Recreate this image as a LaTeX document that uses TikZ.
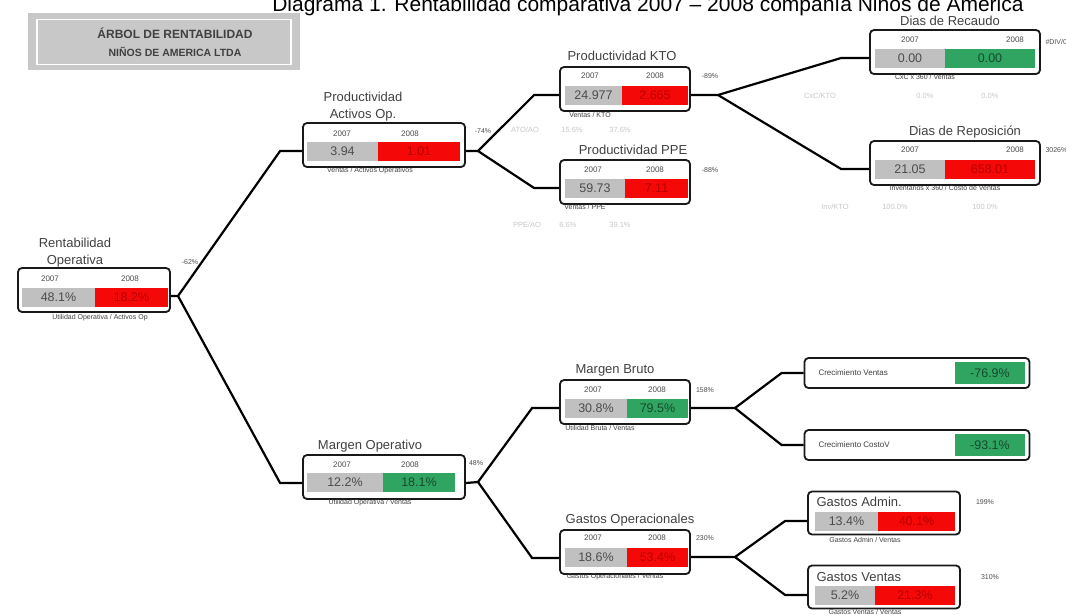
\documentclass[tikz,border=0pt]{standalone}
\usepackage{fontspec}
\setmainfont{Liberation Sans}
\usetikzlibrary{positioning}

\definecolor{cellgray}{RGB}{192,192,192}
\definecolor{cellred}{RGB}{245,8,8}
\definecolor{cellgreen}{RGB}{48,165,98}
\definecolor{valred}{RGB}{185,0,0}
\definecolor{hdrgray}{RGB}{200,200,200}

\tikzset{
  frame/.style={draw=black!90, line width=1.8pt, rounded corners=4pt, inner sep=0pt, fill=white},
  gcell/.style={fill=cellgray, minimum height=19pt, inner sep=0pt, text=black!70, font=\fontsize{12.5}{12.5}\selectfont},
  rcell/.style={gcell, fill=cellred, text=valred},
  vcell/.style={gcell, fill=cellgreen, text=black!55!cellgreen},
  lbl/.style={text=black!75, font=\fontsize{13}{13}\selectfont},
  yr/.style={text=black!70, font=\fontsize{8}{8}\selectfont},
  sub/.style={text=black!75, font=\fontsize{7}{7}\selectfont},
  pct/.style={text=black!70, font=\fontsize{7}{7}\selectfont},
  faint/.style={text=black!22, font=\fontsize{7.5}{7.5}\selectfont},
  link/.style={line width=2.2pt, black}
}

\begin{document}
\begin{tikzpicture}[x=1pt, y=-1pt]
\useasboundingbox (0,0) rectangle (1066,614);

% title
\node[font=\fontsize{21}{21}\selectfont, anchor=base] (title) at (648,11)
  {Diagrama 1. Rentabilidad comparativa 2007 -- 2008 compañía Niños de America};

% header
\node[fill=hdrgray, minimum width=272pt, minimum height=57pt] (hdr) at (164,41.5) {};
\node[draw=white, line width=1.5pt, fill=hdrgray, minimum width=254pt, minimum height=45pt] (hdrin) at (164,42) {};
\node[text=black!75, font=\bfseries\fontsize{12}{12}\selectfont] (hdr1) at (175,33) {ÁRBOL DE RENTABILIDAD};
\node[text=black!75, font=\bfseries\fontsize{10.5}{10.5}\selectfont] (hdr2) at (175,52) {NIÑOS DE AMERICA LTDA};

% Rentabilidad Operativa
\node[lbl] (rentl1) at (75,243) {Rentabilidad};
\node[lbl] (rentl2) at (75,261) {Operativa};
\node[frame, minimum width=152pt, minimum height=44pt] (rent) at (94,290) {};
\node[yr] (renty1) at (50,279) {2007};
\node[yr] (renty2) at (130,279) {2008};
\node[gcell, minimum width=73pt] (rentv1) at (58.5,297) {48.1\%};
\node[rcell, minimum width=73pt] (rentv2) at (131.5,297) {18.2\%};
\node[pct] (rentp) at (190,262) {-62\%};
\node[sub] (rents) at (100,318) {Utilidad Operativa / Activos Op};

% Productividad Activos Op.
\node[lbl] (paol1) at (363,97) {Productividad};
\node[lbl] (paol2) at (363,115) {Activos Op.};
\node[frame, minimum width=162pt, minimum height=44pt] (pao) at (384,145) {};
\node[yr] (paoy1) at (342,134) {2007};
\node[yr] (paoy2) at (410,134) {2008};
\node[gcell, minimum width=71pt] (paov1) at (342.5,151) {3.94};
\node[rcell, minimum width=82pt] (paov2) at (419,151) {1.01};
\node[pct] (paop) at (483,131) {-74\%};
\node[sub] (paos) at (370,171) {Ventas / Activos Operativos};

% Productividad KTO
\node[lbl] (ktol) at (622,56) {Productividad KTO};
\node[frame, minimum width=130pt, minimum height=44pt] (kto) at (625,89) {};
\node[yr] (ktoy1) at (590,76) {2007};
\node[yr] (ktoy2) at (655,76) {2008};
\node[gcell, minimum width=57pt] (ktov1) at (593.5,95) {24.977};
\node[rcell, minimum width=66pt] (ktov2) at (655,95) {2.665};
\node[pct] (ktop) at (710,76) {-89\%};
\node[sub] (ktos) at (590,115) {Ventas / KTO};
\node[faint] (atoa) at (525,130) {ATO/AO};
\node[faint] (atob) at (572,130) {15.6\%};
\node[faint] (atoc) at (620,130) {37.6\%};

% Productividad PPE
\node[lbl] (ppel) at (633,150) {Productividad PPE};
\node[frame, minimum width=130pt, minimum height=44pt] (ppe) at (625,182) {};
\node[yr] (ppey1) at (593,170) {2007};
\node[yr] (ppey2) at (655,170) {2008};
\node[gcell, minimum width=60pt] (ppev1) at (595,188) {59.73};
\node[rcell, minimum width=63pt] (ppev2) at (656.5,188) {7.11};
\node[pct] (ppep) at (710,170) {-88\%};
\node[sub] (ppes) at (585,207) {Ventas / PPE};
\node[faint] (ppea) at (527,225) {PPE/AO};
\node[faint] (ppeb) at (568,225) {6.6\%};
\node[faint] (ppec) at (620,225) {39.1\%};

% Dias de Recaudo
\node[lbl] (drecl) at (950,21) {Dias de Recaudo};
\node[frame, minimum width=170pt, minimum height=44pt] (drec) at (955,52) {};
\node[yr] (drecy1) at (910,40) {2007};
\node[yr] (drecy2) at (1015,40) {2008};
\node[gcell, minimum width=70pt] (drecv1) at (910,58) {0.00};
\node[vcell, minimum width=90pt] (drecv2) at (990,58) {0.00};
\node[pct, anchor=west] (drecp) at (1042,42) {\#DIV/0!};
\node[sub] (drecs) at (925,77) {CxC x 360 / Ventas};
\node[faint] (drca) at (820,96) {CxC/KTO};
\node[faint] (drcb) at (925,96) {0.0\%};
\node[faint] (drcc) at (990,96) {0.0\%};

% Dias de Reposicion
\node[lbl] (drepl) at (965,132) {Dias de Reposición};
\node[frame, minimum width=170pt, minimum height=44pt] (drep) at (955,163) {};
\node[yr] (drepy1) at (910,150) {2007};
\node[yr] (drepy2) at (1015,150) {2008};
\node[gcell, minimum width=70pt] (drepv1) at (910,169.5) {21.05};
\node[rcell, minimum width=90pt] (drepv2) at (990,169.5) {658.01};
\node[pct, anchor=west] (drepp) at (1042,150) {3026\%};
\node[sub] (dreps) at (945,188) {Inventarios x 360 / Costo de Ventas};
\node[faint] (drpa) at (835,207) {Inv/KTO};
\node[faint] (drpb) at (895,207) {100.0\%};
\node[faint] (drpc) at (985,207) {100.0\%};

% Margen Operativo
\node[lbl] (mopl) at (370,446) {Margen Operativo};
\node[frame, minimum width=162pt, minimum height=44pt] (mop) at (384,477) {};
\node[yr] (mopy1) at (342,465) {2007};
\node[yr] (mopy2) at (410,465) {2008};
\node[gcell, minimum width=76pt] (mopv1) at (345,482) {12.2\%};
\node[vcell, minimum width=72pt] (mopv2) at (419,482) {18.1\%};
\node[pct] (mopp) at (476,463) {48\%};
\node[sub] (mops) at (370,503) {Utilidad Operativa / Ventas};

% Margen Bruto
\node[lbl] (mbrl) at (615,370) {Margen Bruto};
\node[frame, minimum width=130pt, minimum height=44pt] (mbr) at (625,402) {};
\node[yr] (mbry1) at (593,390) {2007};
\node[yr] (mbry2) at (657,390) {2008};
\node[gcell, minimum width=62pt] (mbrv1) at (596,408) {30.8\%};
\node[vcell, minimum width=61pt] (mbrv2) at (657.5,408) {79.5\%};
\node[pct] (mbrp) at (705,390) {158\%};
\node[sub] (mbrs) at (600,428) {Utilidad Bruta / Ventas};

% Gastos Operacionales
\node[lbl] (gopl) at (630,520) {Gastos Operacionales};
\node[frame, minimum width=130pt, minimum height=44pt] (gop) at (625,552) {};
\node[yr] (gopy1) at (593,538) {2007};
\node[yr] (gopy2) at (657,538) {2008};
\node[gcell, minimum width=62pt] (gopv1) at (596,557) {18.6\%};
\node[rcell, minimum width=61pt] (gopv2) at (657.5,557) {53.4\%};
\node[pct] (gopp) at (705,538) {230\%};
\node[sub] (gops) at (615,577) {Gastos Operacionales / Ventas};

% Crecimiento Ventas / CostoV
\node[frame, minimum width=225pt, minimum height=30pt] (cven) at (917,373) {};
\node[sub, font=\fontsize{8}{8}\selectfont, anchor=west] (cvenl) at (815,373) {Crecimiento Ventas};
\node[vcell, minimum width=70pt, minimum height=22pt] (cvenv) at (990,373) {-76.9\%};
\node[frame, minimum width=225pt, minimum height=30pt] (ccos) at (917,445) {};
\node[sub, font=\fontsize{8}{8}\selectfont, anchor=west] (ccosl) at (815,445) {Crecimiento CostoV};
\node[vcell, minimum width=70pt, minimum height=22pt] (ccosv) at (990,445) {-93.1\%};

% Gastos Admin.
\node[frame, minimum width=152pt, minimum height=43pt] (gadm) at (884,513) {};
\node[lbl, anchor=west] (gadml) at (813,502) {Gastos Admin.};
\node[gcell, minimum width=63pt] (gadmv1) at (846.5,521) {13.4\%};
\node[rcell, minimum width=77pt] (gadmv2) at (916.5,521) {40.1\%};
\node[pct] (gadmp) at (985,502) {199\%};
\node[sub] (gadms) at (865,540) {Gastos Admin / Ventas};

% Gastos Ventas
\node[frame, minimum width=152pt, minimum height=43pt] (gven) at (884,587) {};
\node[lbl, anchor=west] (gvenl) at (813,577) {Gastos Ventas};
\node[gcell, minimum width=60pt] (gvenv1) at (845,595) {5.2\%};
\node[rcell, minimum width=80pt] (gvenv2) at (915,595) {21.3\%};
\node[pct] (gvenp) at (990,577) {310\%};
\node[sub] (gvens) at (865,612) {Gastos Ventas / Ventas};

% junctions
\coordinate (j0) at (178,296);
\coordinate (j1) at (478,151);
\coordinate (j2) at (718,95);
\coordinate (j3) at (478,482);
\coordinate (j4) at (735,408);
\coordinate (j5) at (735,557);

% connectors
\draw[link] ([yshift=-6pt]rent.east) -- (j0) -- ([xshift=-22pt,yshift=-6pt]pao.west) -- ([yshift=-6pt]pao.west);
\draw[link] (j0) -- ([xshift=-22pt,yshift=-6pt]mop.west) -- ([yshift=-6pt]mop.west);
\draw[link] ([yshift=-6pt]pao.east) -- (j1) -- ([xshift=-25pt,yshift=-6pt]kto.west) -- ([yshift=-6pt]kto.west);
\draw[link] (j1) -- ([xshift=-25pt,yshift=-6pt]ppe.west) -- ([yshift=-6pt]ppe.west);
\draw[link] ([yshift=-6pt]kto.east) -- (j2) -- ([xshift=-28pt,yshift=-6pt]drec.west) -- ([yshift=-6pt]drec.west);
\draw[link] (j2) -- ([xshift=-28pt,yshift=-6pt]drep.west) -- ([yshift=-6pt]drep.west);
\draw[link] ([yshift=-6pt]mop.east) -- (j3) -- ([xshift=-27pt,yshift=-6pt]mbr.west) -- ([yshift=-6pt]mbr.west);
\draw[link] (j3) -- ([xshift=-27pt,yshift=-6pt]gop.west) -- ([yshift=-6pt]gop.west);
\draw[link] ([yshift=-6pt]mbr.east) -- (j4) -- ([xshift=-22pt]cven.west) -- (cven.west);
\draw[link] (j4) -- ([xshift=-22pt]ccos.west) -- (ccos.west);
\draw[link] ([yshift=-5pt]gop.east) -- (j5) -- ([xshift=-22pt,yshift=-8pt]gadm.west) -- ([yshift=-8pt]gadm.west);
\draw[link] (j5) -- ([xshift=-22pt,yshift=-8pt]gven.west) -- ([yshift=-8pt]gven.west);
\end{tikzpicture}
\end{document}
